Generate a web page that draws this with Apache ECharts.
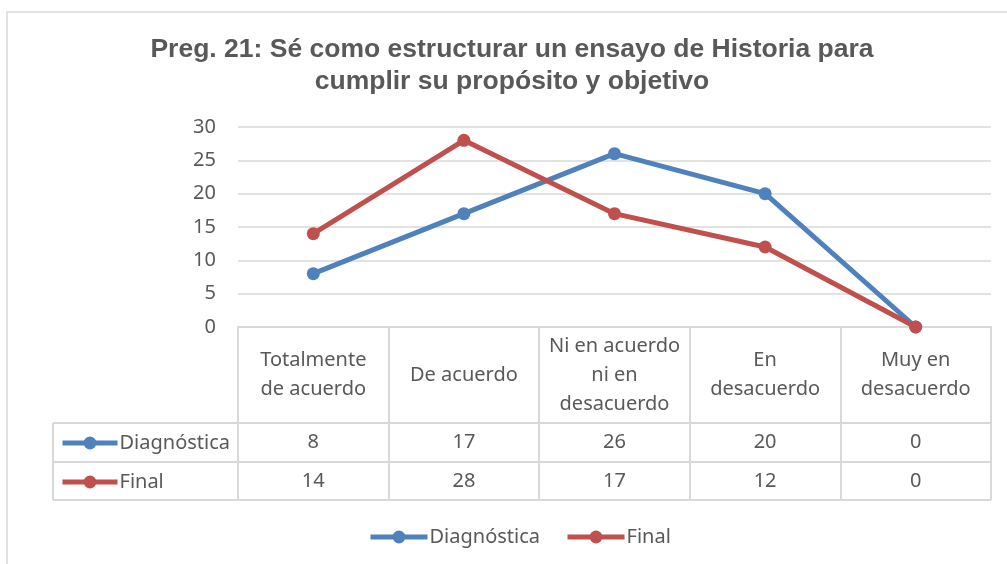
<!DOCTYPE html>
<html>
<head>
<meta charset="utf-8">
<script src="https://cdn.jsdelivr.net/npm/echarts@6/dist/echarts.min.js"></script>
<style>
  html, body { margin: 0; padding: 0; background: #fff; }
  #chart { width: 1007px; height: 564px; }
</style>
</head>
<body>
<div id="chart"></div>
<script>
// datos
const categories = ["Totalmente de acuerdo", "De acuerdo", "Ni en acuerdo ni en desacuerdo", "En desacuerdo", "Muy en desacuerdo"];
const categoryLabels = ["Totalmente\nde acuerdo", "De acuerdo", "Ni en acuerdo\nni en\ndesacuerdo", "En\ndesacuerdo", "Muy en\ndesacuerdo"];
const diagnostica = [8, 17, 26, 20, 0];
const final = [14, 28, 17, 12, 0];
const yTicks = [0, 5, 10, 15, 20, 25, 30];

const BLUE = "#4F81BD";
const RED = "#C0504D";
const GRID = "#D9D9D9";
const TXT = "#595959";
const FONT = "'Noto Sans', sans-serif";

const chart = echarts.init(document.getElementById("chart"));

const plotLeft = 238, plotRight = 991, axisY = 327;
const row1 = 423, row2 = 462, row3 = 500;
const tableLeft = 53;

// filas de valores como ejes de categoría extra (mismas posiciones que las columnas)
const valueAxis = (vals, offset) => ({
  type: "category",
  data: categories,
  position: "bottom",
  offset: offset,
  axisLine: { show: false },
  axisTick: { show: false },
  axisLabel: {
    interval: 0,
    margin: 0,
    verticalAlign: "middle",
    color: TXT,
    fontSize: 20,
    fontFamily: FONT,
    formatter: (v, i) => String(vals[i]),
  },
});

const legendText = { color: TXT, fontSize: 20, fontFamily: FONT, padding: [0, 0, 0, -3] };

const option = {
  animation: false,
  title: {
    text: "Preg. 21: Sé como estructurar un ensayo de Historia para\ncumplir su propósito y objetivo",
    left: 512,
    top: 34,
    padding: 0,
    textAlign: "center",
    textStyle: {
      color: TXT,
      fontSize: 26.5,
      fontWeight: "bold",
      fontFamily: "'Liberation Sans', Arial, sans-serif",
      lineHeight: 32,
    },
  },
  legend: [
    {
      data: ["Diagnóstica", "Final"],
      left: 368,
      top: 527,
      padding: 0,
      itemWidth: 57,
      itemHeight: 16,
      itemGap: 25,
      selectedMode: false,
      lineStyle: { width: 5 },
      textStyle: legendText,
    },
    {
      data: ["Diagnóstica", "Final"],
      orient: "vertical",
      left: 60,
      top: 433,
      padding: 0,
      itemWidth: 55,
      itemHeight: 16,
      itemGap: 19,
      selectedMode: false,
      lineStyle: { width: 5 },
      textStyle: legendText,
    },
  ],
  grid: {
    left: plotLeft,
    right: 1007 - plotRight,
    top: 127,
    bottom: 564 - axisY,
    containLabel: false,
  },
  xAxis: [
    {
      type: "category",
      data: categories,
      boundaryGap: true,
      axisLine: { show: true, lineStyle: { color: GRID, width: 2 } },
      axisTick: {
        show: true,
        alignWithLabel: false,
        length: row3 - axisY,
        lineStyle: { color: GRID, width: 2 },
      },
      axisLabel: {
        interval: 0,
        margin: 48,
        verticalAlign: "middle",
        color: TXT,
        fontSize: 20,
        lineHeight: 29,
        fontFamily: FONT,
        formatter: (v, i) => categoryLabels[i],
      },
    },
    valueAxis(diagnostica, row1 - axisY + 19),
    valueAxis(final, row2 - axisY + 19),
  ],
  yAxis: {
    type: "value",
    min: yTicks[0],
    max: yTicks[yTicks.length - 1],
    interval: 5,
    axisLine: { show: false },
    axisTick: { show: false },
    axisLabel: { color: TXT, fontSize: 20, fontFamily: FONT, margin: 22 },
    splitLine: { lineStyle: { color: GRID, width: 1.5 } },
  },
  series: [
    {
      name: "Diagnóstica",
      type: "line",
      data: diagnostica,
      symbol: "circle",
      symbolSize: 13,
      lineStyle: { color: BLUE, width: 5 },
      itemStyle: { color: BLUE },
      z: 3,
    },
    {
      name: "Final",
      type: "line",
      data: final,
      symbol: "circle",
      symbolSize: 13,
      lineStyle: { color: RED, width: 5 },
      itemStyle: { color: RED },
      z: 4,
    },
  ],
  graphic: [
    // marco del área del gráfico
    {
      type: "rect",
      shape: { x: 7, y: 12, width: 1010, height: 570 },
      style: { fill: null, stroke: GRID, lineWidth: 1.5 },
      silent: true,
    },
    // líneas de la tabla de datos
    {
      type: "line",
      shape: { x1: tableLeft, y1: row1, x2: plotRight, y2: row1 },
      style: { stroke: GRID, lineWidth: 2 },
      silent: true,
    },
    {
      type: "line",
      shape: { x1: tableLeft, y1: row2, x2: plotRight, y2: row2 },
      style: { stroke: GRID, lineWidth: 2 },
      silent: true,
    },
    {
      type: "line",
      shape: { x1: tableLeft, y1: row3, x2: plotRight, y2: row3 },
      style: { stroke: GRID, lineWidth: 2 },
      silent: true,
    },
    {
      type: "line",
      shape: { x1: tableLeft, y1: row1, x2: tableLeft, y2: row3 },
      style: { stroke: GRID, lineWidth: 2 },
      silent: true,
    },
  ],
};

chart.setOption(option);
</script>
</body>
</html>
